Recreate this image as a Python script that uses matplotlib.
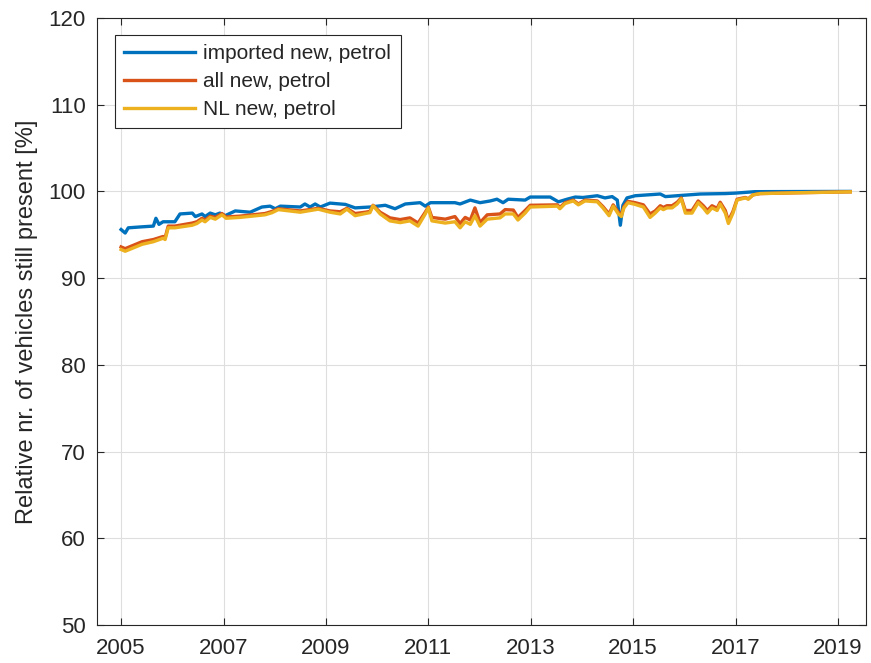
import numpy as np
import matplotlib.pyplot as plt

plt.rcParams['font.family'] = ['Liberation Sans', 'DejaVu Sans']

# imported new, petrol (decimal year, %)
imp_year = [2005.00, 2005.08, 2005.14, 2005.37, 2005.63, 2005.68, 2005.74, 2005.82,
            2006.05, 2006.15, 2006.39, 2006.45, 2006.58, 2006.64, 2006.74, 2006.84,
            2006.93, 2007.03, 2007.23, 2007.52, 2007.75, 2007.91, 2008.01, 2008.11,
            2008.50, 2008.59, 2008.69, 2008.79, 2008.89, 2009.08, 2009.38, 2009.57,
            2009.86, 2010.16, 2010.35, 2010.55, 2010.84, 2010.94, 2011.04, 2011.52,
            2011.62, 2011.82, 2012.01, 2012.21, 2012.34, 2012.46, 2012.56, 2012.89,
            2012.99, 2013.38, 2013.54, 2013.71, 2013.87, 2014.02, 2014.30, 2014.45,
            2014.59, 2014.69, 2014.75, 2014.80, 2014.88, 2015.04, 2015.53, 2015.63,
            2016.31, 2016.80, 2016.99, 2017.38, 2019.24]
imp_val = [95.6, 95.2, 95.8, 95.9, 96.0, 96.9, 96.2, 96.5,
           96.5, 97.4, 97.5, 97.1, 97.4, 97.1, 97.5, 97.3,
           97.5, 97.2, 97.75, 97.6, 98.2, 98.3, 98.0, 98.3,
           98.2, 98.55, 98.2, 98.55, 98.2, 98.65, 98.5, 98.1,
           98.2, 98.4, 98.0, 98.55, 98.7, 98.3, 98.7, 98.7,
           98.55, 99.0, 98.7, 98.9, 99.1, 98.7, 99.1, 99.0,
           99.35, 99.35, 98.8, 99.1, 99.35, 99.3, 99.5, 99.25,
           99.4, 99.0, 96.1, 98.4, 99.25, 99.5, 99.7, 99.4,
           99.7, 99.75, 99.8, 99.97, 100.0]

# all new / NL new, petrol (shared time axis)
nl_year = [2005.00, 2005.08, 2005.41, 2005.63, 2005.82, 2005.86, 2005.92, 2006.05,
           2006.39, 2006.48, 2006.58, 2006.64, 2006.74, 2006.84, 2006.97, 2007.05,
           2007.32, 2007.81, 2007.95, 2008.07, 2008.50, 2008.85, 2009.08, 2009.28,
           2009.41, 2009.57, 2009.77, 2009.86, 2009.92, 2010.06, 2010.25, 2010.45,
           2010.64, 2010.80, 2010.94, 2011.00, 2011.07, 2011.33, 2011.52, 2011.62,
           2011.72, 2011.82, 2011.91, 2012.01, 2012.15, 2012.40, 2012.50, 2012.66,
           2012.75, 2012.89, 2012.99, 2013.52, 2013.57, 2013.67, 2013.83, 2013.93,
           2014.06, 2014.30, 2014.41, 2014.53, 2014.61, 2014.71, 2014.77, 2014.82,
           2014.90, 2015.04, 2015.20, 2015.33, 2015.43, 2015.53, 2015.59, 2015.66,
           2015.76, 2015.86, 2015.94, 2016.02, 2016.15, 2016.27, 2016.37, 2016.45,
           2016.54, 2016.64, 2016.70, 2016.80, 2016.86, 2016.95, 2017.03, 2017.19,
           2017.25, 2017.34, 2017.48, 2018.26, 2019.24]
all_val = [93.6, 93.4, 94.2, 94.45, 94.8, 94.65, 96.0, 96.0,
           96.35, 96.5, 96.9, 96.7, 97.15, 97.0, 97.45, 97.05,
           97.15, 97.45, 97.7, 98.0, 97.75, 98.05, 97.75, 97.65,
           98.05, 97.45, 97.6, 97.7, 98.4, 97.6, 96.95, 96.75,
           96.95, 96.35, 97.6, 98.2, 97.0, 96.8, 97.1, 96.3,
           97.0, 96.7, 98.1, 96.4, 97.3, 97.4, 97.9, 97.85,
           97.0, 97.8, 98.4, 98.45, 98.15, 98.7, 99.0, 98.55,
           99.0, 98.9, 98.25, 97.4, 98.45, 97.6, 97.3, 98.25,
           98.85, 98.7, 98.45, 97.4, 97.75, 98.35, 98.15, 98.35,
           98.35, 98.75, 99.25, 97.8, 97.8, 98.9, 98.35, 97.8,
           98.35, 98.05, 98.75, 97.8, 96.6, 97.7, 99.1, 99.3,
           99.15, 99.6, 99.75, 99.85, 99.95]
nl_val = [93.3, 93.1, 93.9, 94.2, 94.6, 94.45, 95.8, 95.8,
          96.1, 96.3, 96.7, 96.5, 97.0, 96.8, 97.3, 96.9,
          97.0, 97.3, 97.55, 97.9, 97.6, 97.95, 97.6, 97.4,
          97.95, 97.2, 97.45, 97.55, 98.35, 97.4, 96.6, 96.4,
          96.6, 96.0, 97.4, 98.1, 96.6, 96.35, 96.5, 95.8,
          96.5, 96.2, 97.2, 96.0, 96.8, 96.95, 97.4, 97.4,
          96.7, 97.5, 98.2, 98.3, 98.0, 98.6, 98.9, 98.45,
          98.9, 98.8, 98.1, 97.2, 98.3, 97.4, 97.1, 98.1,
          98.7, 98.5, 98.2, 97.0, 97.5, 98.1, 97.9, 98.1,
          98.1, 98.55, 99.15, 97.5, 97.5, 98.7, 98.1, 97.5,
          98.1, 97.8, 98.55, 97.5, 96.3, 97.5, 99.0, 99.25,
          99.1, 99.6, 99.75, 99.85, 99.95]

x_ticks = [2005, 2007, 2009, 2011, 2013, 2015, 2017, 2019]
y_ticks = [50, 60, 70, 80, 90, 100, 110, 120]

fig = plt.figure(figsize=(8.71, 6.63), dpi=100)
ax = fig.add_axes([0.1114, 0.0573, 0.883, 0.9156])

ax.plot(imp_year, imp_val, color="#0072BD", lw=2.4, label="imported new, petrol")
ax.plot(nl_year, all_val, color="#D95319", lw=2.4, label="all new, petrol")
ax.plot(nl_year, nl_val, color="#EDB120", lw=2.4, label="NL new, petrol")

ax.set_xlim(2004.53, 2019.55)
ax.set_ylim(50, 120)
ax.set_xticks(x_ticks)
ax.set_yticks(y_ticks)
ax.set_xticklabels([str(t) for t in x_ticks])
ax.grid(True, color="#dedede", lw=0.8)
ax.set_axisbelow(True)
ax.tick_params(direction="in", length=5, width=0.8, colors="#262626",
               labelsize=16, top=True, right=True)
ax.tick_params(axis="x", pad=9)
ax.tick_params(axis="y", pad=8)
for s in ax.spines.values():
    s.set_color("#262626")
    s.set_linewidth(0.8)
ax.set_ylabel("Relative nr. of vehicles still present [%]", fontsize=17,
              color="#262626", labelpad=8)

leg = ax.legend(loc="upper left", fontsize=15, handlelength=3.4,
                bbox_to_anchor=(0.023, 0.972), borderaxespad=0,
                fancybox=False, edgecolor="#262626", framealpha=1,
                labelspacing=0.42, handletextpad=0.4, borderpad=0.45)
leg.get_frame().set_linewidth(0.8)
for t in leg.get_texts():
    t.set_color("#262626")

plt.savefig("out.png")
